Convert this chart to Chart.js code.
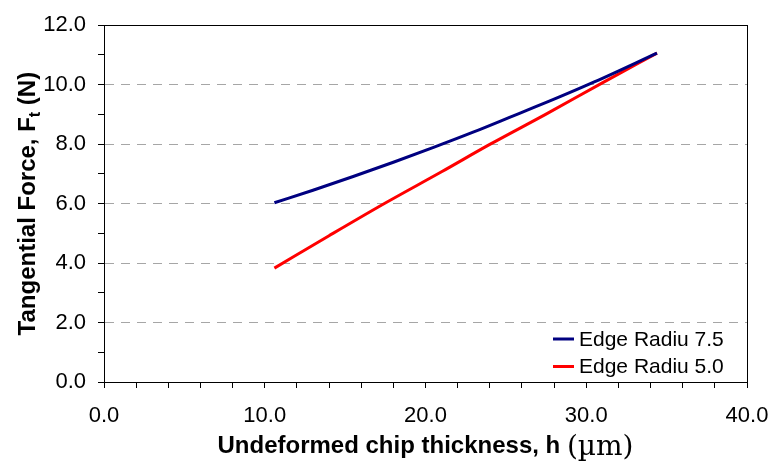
<!DOCTYPE html>
<html>
<head>
<meta charset="utf-8">
<script src="https://cdn.jsdelivr.net/npm/chart.js@4/dist/chart.umd.min.js"></script>
<style>
  html, body { margin: 0; padding: 0; background: #fff; }
  #wrap { width: 771px; height: 464px; position: relative; }
</style>
</head>
<body>
<div id="wrap"><canvas id="c"></canvas></div>
<script>
// Undeformed chip thickness h (µm) and tangential force Ft (N)
const seriesNames = ['Edge Radiu 7.5', 'Edge Radiu 5.0'];
const hRadius75 = [10.6, 13.0, 15.5, 18.0, 20.5, 23.0, 25.5, 28.0, 30.5, 34.4];
const ftRadius75 = [6.03, 6.45, 6.91, 7.39, 7.89, 8.41, 8.96, 9.51, 10.09, 11.06];
const hRadius50 = [10.6, 14.0, 17.5, 21.0, 24.0, 27.5, 31.0, 34.4];
const ftRadius50 = [3.83, 4.92, 6.02, 7.07, 7.99, 9.01, 10.06, 11.06];
const seriesColors = ['#000080', '#ff0000'];
const xTickLabels = ['0.0', '10.0', '20.0', '30.0', '40.0'];
const yTickLabels = ['0.0', '2.0', '4.0', '6.0', '8.0', '10.0', '12.0'];

const toPoints = (xs, ys) => xs.map((x, i) => ({ x: x, y: ys[i] }));

const SANS = '"Liberation Sans", Arial, sans-serif';

// Box around the plotting area
const frame = {
  id: 'frame',
  afterDraw(chart) {
    const { ctx, chartArea: a } = chart;
    ctx.save();
    ctx.strokeStyle = '#000';
    ctx.lineWidth = 1;
    ctx.strokeRect(Math.round(a.left) + 0.5, Math.round(a.top) + 0.5,
                   Math.round(a.right - a.left), Math.round(a.bottom - a.top));
    ctx.restore();
  }
};

// Legend drawn inside the lower-right corner of the plot
const innerLegend = {
  id: 'innerLegend',
  afterDraw(chart) {
    const { ctx, chartArea: a } = chart;
    ctx.save();
    ctx.font = '21px ' + SANS;
    ctx.textBaseline = 'middle';
    ctx.textAlign = 'left';
    chart.data.datasets.forEach((ds, i) => {
      const y = a.bottom - 43 + i * 27.5;
      ctx.strokeStyle = ds.borderColor;
      ctx.lineWidth = 3;
      ctx.beginPath();
      ctx.moveTo(a.right - 194, y);
      ctx.lineTo(a.right - 173, y);
      ctx.stroke();
      ctx.fillStyle = '#000';
      ctx.fillText(ds.label, a.right - 168, y + 1);
    });
    ctx.restore();
  }
};

// Axis titles with subscript and serif unit
const axisTitles = {
  id: 'axisTitles',
  afterDraw(chart) {
    const { ctx, chartArea: a } = chart;
    ctx.save();
    ctx.fillStyle = '#000';
    ctx.textBaseline = 'alphabetic';

    // x title
    const boldX = 'bold 24px ' + SANS;
    const serif = '28px "DejaVu Serif", "Liberation Serif", serif';
    const xMain = 'Undeformed chip thickness, h ';
    const xUnit = '(\u00b5m)';
    ctx.font = boldX;
    const w1 = ctx.measureText(xMain).width;
    ctx.font = serif;
    const w2 = ctx.measureText(xUnit).width;
    const cx = (a.left + a.right) / 2;
    const x0 = cx - (w1 + w2) / 2;
    const by = 453;
    ctx.font = boldX;
    ctx.textAlign = 'left';
    ctx.fillText(xMain, x0, by);
    ctx.font = serif;
    ctx.fillText(xUnit, x0 + w1, by + 2);

    // y title (rotated)
    const parts = [
      { t: 'Tangential Force, F', f: 'bold 24px ' + SANS, dy: 0 },
      { t: 't', f: 'bold 16px ' + SANS, dy: 5 },
      { t: ' (N)', f: 'bold 24px ' + SANS, dy: 0 }
    ];
    let total = 0;
    parts.forEach(p => { ctx.font = p.f; p.w = ctx.measureText(p.t).width; total += p.w; });
    ctx.translate(35, (a.top + a.bottom) / 2);
    ctx.rotate(-Math.PI / 2);
    let px = -total / 2;
    parts.forEach(p => {
      ctx.font = p.f;
      ctx.fillText(p.t, px, p.dy);
      px += p.w;
    });
    ctx.restore();
  }
};

new Chart(document.getElementById('c'), {
  type: 'line',
  data: {
    datasets: [
      {
        label: seriesNames[0],
        data: toPoints(hRadius75, ftRadius75),
        borderColor: seriesColors[0],
        backgroundColor: seriesColors[0],
        borderWidth: 3,
        pointRadius: 0,
        cubicInterpolationMode: 'monotone',
        fill: false
      },
      {
        label: seriesNames[1],
        data: toPoints(hRadius50, ftRadius50),
        borderColor: seriesColors[1],
        backgroundColor: seriesColors[1],
        borderWidth: 3,
        pointRadius: 0,
        cubicInterpolationMode: 'monotone',
        fill: false
      }
    ]
  },
  options: {
    responsive: true,
    maintainAspectRatio: false,
    animation: false,
    events: [],
    layout: { padding: { top: 18, right: 24, left: 0, bottom: 0 } },
    plugins: { legend: { display: false }, tooltip: { enabled: false } },
    scales: {
      x: {
        type: 'linear',
        min: 0, max: 40,
        afterFit(s) { s.height = 82; s.paddingRight = 0; s.paddingLeft = 0; },
        afterBuildTicks(s) {
          s.ticks = [];
          for (let v = 0; v <= 40; v += 2) s.ticks.push({ value: v });
        },
        ticks: {
          autoSkip: false,
          maxRotation: 0,
          padding: 15,
          color: '#000',
          font: { family: SANS, size: 22 },
          callback: (v) => {
            const i = xTickLabels.indexOf(Number(v).toFixed(1));
            return i >= 0 ? xTickLabels[i] : '';
          }
        },
        grid: {
          drawOnChartArea: false,
          drawTicks: true,
          tickLength: 6,
          tickColor: '#000',
          tickWidth: 1
        },
        border: { display: true, color: '#000', width: 1 }
      },
      y: {
        type: 'linear',
        min: 0, max: 12,
        afterFit(s) { s.width = 104; },
        afterBuildTicks(s) {
          s.ticks = [];
          for (let v = 0; v <= 12; v += 1) s.ticks.push({ value: v });
        },
        ticks: {
          autoSkip: false,
          padding: 12,
          color: '#000',
          font: { family: SANS, size: 22 },
          callback: (v) => {
            const i = yTickLabels.indexOf(Number(v).toFixed(1));
            return i >= 0 ? yTickLabels[i] : '';
          }
        },
        grid: {
          drawTicks: true,
          tickLength: 6,
          tickColor: '#000',
          tickWidth: 1,
          tickBorderDash: [],
          lineWidth: 1,
          color: (ctx) => {
            const v = ctx.tick ? ctx.tick.value : -1;
            return (v > 0 && v < 12 && v % 2 === 0) ? '#a6a6a6' : 'rgba(0,0,0,0)';
          }
        },
        border: { display: true, color: '#000', width: 1, dash: [9, 7] }
      }
    }
  },
  plugins: [frame, innerLegend, axisTitles]
});
</script>
</body>
</html>
